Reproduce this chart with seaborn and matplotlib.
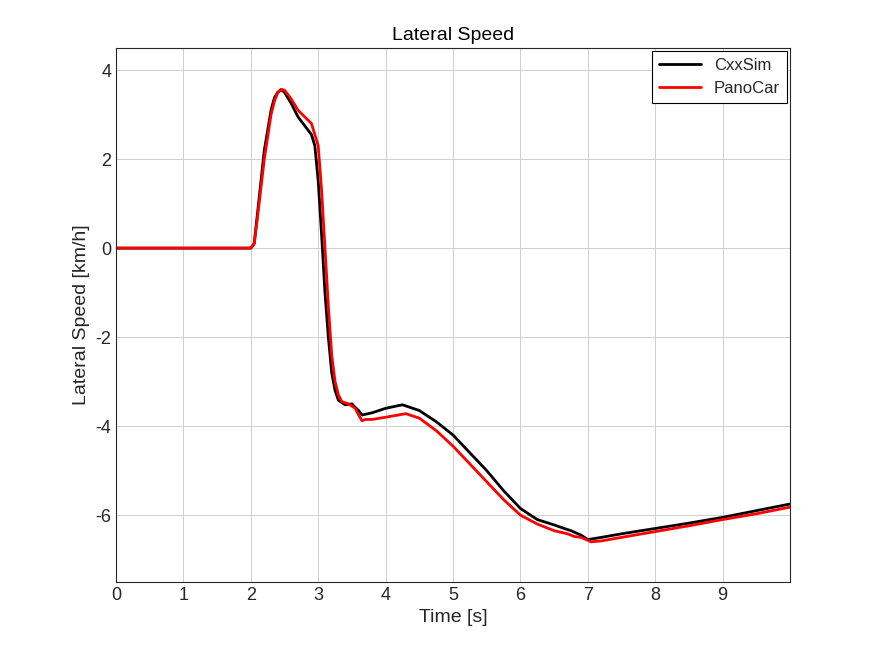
import numpy as np
import pandas as pd
import matplotlib
matplotlib.use("Agg")
import matplotlib.pyplot as plt
import seaborn as sns

# data
t_cxx = [0, 2.0, 2.05, 2.1, 2.2, 2.3, 2.35, 2.4, 2.45, 2.5, 2.6, 2.7, 2.8, 2.9, 2.95, 3.0, 3.05, 3.1, 3.15, 3.2,
         3.25, 3.3, 3.4, 3.5, 3.55, 3.6, 3.65, 3.8, 4.0, 4.25, 4.5, 4.75, 5.0, 5.25, 5.5, 5.75, 6.0, 6.25, 6.5,
         6.65, 6.75, 6.9, 7.0, 7.2, 7.5, 8.0, 8.5, 9.0, 9.5, 10.0]
v_cxx = [0, 0, 0.1, 0.8, 2.2, 3.1, 3.38, 3.5, 3.56, 3.5, 3.25, 2.95, 2.75, 2.55, 2.3, 1.5, 0.3, -1.0, -2.0, -2.8,
         -3.2, -3.42, -3.52, -3.5, -3.58, -3.65, -3.75, -3.7, -3.6, -3.52, -3.65, -3.9, -4.2, -4.6, -5.0, -5.45,
         -5.85, -6.1, -6.22, -6.3, -6.35, -6.45, -6.55, -6.5, -6.42, -6.3, -6.18, -6.05, -5.9, -5.75]
t_pano = [0, 2.0, 2.05, 2.1, 2.2, 2.3, 2.35, 2.4, 2.45, 2.5, 2.6, 2.7, 2.8, 2.9, 3.0, 3.05, 3.1, 3.15, 3.2, 3.25,
          3.3, 3.35, 3.45, 3.5, 3.55, 3.6, 3.65, 3.7, 3.8, 4.0, 4.3, 4.5, 4.75, 5.0, 5.25, 5.5, 5.75, 6.0, 6.25,
          6.5, 6.7, 6.8, 6.9, 7.05, 7.2, 7.5, 8.0, 8.5, 9.0, 9.5, 10.0]
v_pano = [0, 0, 0.1, 0.7, 2.0, 3.0, 3.3, 3.5, 3.57, 3.55, 3.35, 3.1, 2.95, 2.8, 2.3, 1.3, 0.0, -1.3, -2.4, -3.0,
          -3.3, -3.45, -3.5, -3.55, -3.6, -3.75, -3.88, -3.85, -3.85, -3.8, -3.72, -3.82, -4.1, -4.45, -4.85,
          -5.25, -5.65, -6.0, -6.2, -6.35, -6.42, -6.48, -6.5, -6.6, -6.58, -6.5, -6.37, -6.24, -6.1, -5.97, -5.82]

df = pd.concat([
    pd.DataFrame({"Time": t_cxx, "Speed": v_cxx, "Model": "CxxSim"}),
    pd.DataFrame({"Time": t_pano, "Speed": v_pano, "Model": "PanoCar"}),
])

sns.set_style("white")
plt.rcParams["font.family"] = ["Liberation Sans", "DejaVu Sans"]
plt.rcParams["axes.unicode_minus"] = False

fig = plt.figure(figsize=(8.75, 6.56), dpi=100)
ax = fig.add_axes([0.1326, 0.113, 0.7703, 0.814])
sns.lineplot(data=df, x="Time", y="Speed", hue="Model", palette={"CxxSim": "black", "PanoCar": "red"},
             linewidth=2, ax=ax, sort=False)

ax.set_xlim(0, 10)
ax.set_ylim(-7.5, 4.5)
ax.set_xticks(range(0, 10))
ax.set_yticks([-6, -4, -2, 0, 2, 4])
ax.grid(True, color="#d0d0d0", linewidth=0.7)
ax.tick_params(direction="in", labelsize=13, colors="#262626", length=4)
for s in ax.spines.values():
    s.set_color("#262626")
    s.set_linewidth(0.8)
ax.set_xlabel("Time [s]", fontsize=14, color="#262626")
ax.set_ylabel("Lateral Speed [km/h]", fontsize=14, color="#262626")
ax.set_title("Lateral Speed", fontsize=14, color="black")
leg = ax.legend(loc="upper right", fontsize=12, fancybox=False, framealpha=1, edgecolor="black",
                borderaxespad=0.2, handlelength=2.5)
leg.get_frame().set_linewidth(0.8)

fig.savefig("out.png", dpi=100)
